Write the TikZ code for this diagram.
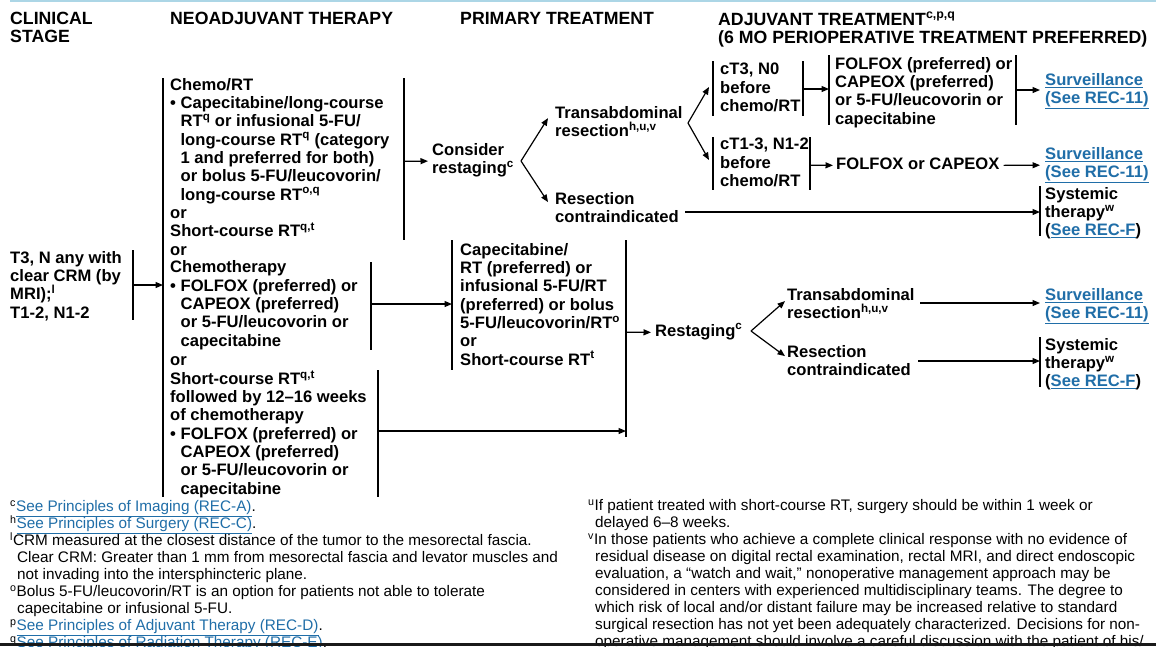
\documentclass[tikz,border=0pt]{standalone}
\usepackage{fontspec}
\setmainfont{Liberation Sans}
\usetikzlibrary{arrows.meta}

\definecolor{linkblue}{RGB}{32,110,168}
\definecolor{toprule}{RGB}{172,214,230}
\newcommand{\lnk}[1]{\textcolor{linkblue}{\underline{#1}}}
\newcommand{\ind}{\hphantom{\textbullet\ }}
\newcommand{\flowfont}{\fontsize{16.6}{18.3}\selectfont\bfseries\lineskiplimit=-20pt}
\newcommand{\headfont}{\fontsize{17.7}{18}\selectfont\bfseries\lineskiplimit=-20pt}
\newcommand{\notefont}{\fontsize{15.3}{17}\selectfont\lineskiplimit=-20pt}

\tikzset{
	flow/.style={anchor=north west, inner sep=0pt, align=left, font=\flowfont, execute at begin node=\strut},
	head/.style={anchor=north west, inner sep=0pt, align=left, font=\headfont, execute at begin node=\strut},
	note/.style={anchor=north west, inner sep=0pt, align=left, font=\notefont, execute at begin node=\strut},
	bracket/.style={line width=1.3pt},
	arr/.style={line width=1.2pt, -{Triangle[length=7.5pt,width=6pt]}}
}

\begin{document}
\begin{tikzpicture}[x=1pt, y=-1pt]
	\useasboundingbox (0,0) rectangle (1156,646);
	\fill[white] (0,0) rectangle (1156,646);
	\draw[toprule, line width=1.5pt] (10,1) -- (1156,1);

	% Column headers
	\node[head] (hStage) at (10,12) {CLINICAL\\STAGE};
	\node[head] (hNeo) at (170,12) {NEOADJUVANT THERAPY};
	\node[head] (hPrim) at (460,12) {PRIMARY TREATMENT};
	\node[head] (hAdj) at (718,12) {ADJUVANT TREATMENT\textsuperscript{c,p,q}\\(6 MO PERIOPERATIVE TREATMENT PREFERRED)};

	% Clinical stage
	\node[flow] (stage) at (10,251) {T3, N any with\\clear CRM (by\\MRI);\textsuperscript{l}\\T1-2, N1-2};

	% Neoadjuvant options
	\node[flow] (neoA) at (170,78) {Chemo/RT\\\textbullet\ Capecitabine/long-course\\\ind RT\textsuperscript{q} or infusional 5-FU/\\\ind long-course RT\textsuperscript{q} (category\\\ind 1 and preferred for both)\\\ind or bolus 5-FU/leucovorin/\\\ind long-course RT\textsuperscript{o,q}\\or\\Short-course RT\textsuperscript{q,t}};
	\node[flow] (orA) at (170,242.4) {or};
	\node[flow] (neoB) at (170,260.7) {Chemotherapy\\\textbullet\ FOLFOX (preferred) or\\\ind CAPEOX (preferred)\\\ind or 5-FU/leucovorin or\\\ind capecitabine};
	\node[flow] (orB) at (170,352) {or};
	\node[flow] (neoC) at (170,370.3) {Short-course RT\textsuperscript{q,t}\\followed by 12--16 weeks\\of chemotherapy\\\textbullet\ FOLFOX (preferred) or\\\ind CAPEOX (preferred)\\\ind or 5-FU/leucovorin or\\\ind capecitabine};

	% Primary treatment
	\node[flow] (cons) at (432,143) {Consider\\restaging\textsuperscript{c}};
	\node[flow] (transA) at (555,106) {Transabdominal\\resection\textsuperscript{h,u,v}};
	\node[flow] (contraA) at (555,192) {Resection\\contraindicated};
	\node[flow] (cape) at (460,243) {Capecitabine/\\RT (preferred) or\\infusional 5-FU/RT\\(preferred) or bolus\\5-FU/leucovorin/RT\textsuperscript{o}\\or\\Short-course RT\textsuperscript{t}};
	\node[flow] (rest) at (655,323) {Restaging\textsuperscript{c}};
	\node[flow] (transB) at (787,288) {Transabdominal\\resection\textsuperscript{h,u,v}};
	\node[flow] (contraB) at (787,345) {Resection\\contraindicated};

	% Adjuvant treatment
	\node[flow] (ctA) at (720,63) {cT3, N0\\before\\chemo/RT};
	\node[flow] (folA) at (835,57) {FOLFOX (preferred) or\\CAPEOX (preferred)\\or 5-FU/leucovorin or\\capecitabine};
	\node[flow] (survA) at (1045,73) {\lnk{Surveillance}\\\lnk{(See REC-11)}};
	\node[flow] (ctB) at (720,138) {cT1-3, N1-2\\before\\chemo/RT};
	\node[flow] (folB) at (836,156) {FOLFOX or CAPEOX};
	\node[flow] (survB) at (1045,147) {\lnk{Surveillance}\\\lnk{(See REC-11)}};
	\node[flow] (sysA) at (1045,187) {Systemic\\therapy\textsuperscript{w}\\(\lnk{See REC-F})};
	\node[flow] (survC) at (1045,288) {\lnk{Surveillance}\\\lnk{(See REC-11)}};
	\node[flow] (sysB) at (1045,338) {Systemic\\therapy\textsuperscript{w}\\(\lnk{See REC-F})};

	% Brackets
	\draw[bracket] (133,250) -- (133,320);
	\draw[bracket] (163,78) -- (163,497);
	\draw[bracket] (404,78) -- (404,240);
	\draw[bracket] (371,262) -- (371,350);
	\draw[bracket] (378,370) -- (378,497);
	\draw[bracket] (452,240) -- (452,370);
	\draw[bracket] (626,240) -- (626,437);
	\draw[bracket] (713,61) -- (713,116);
	\draw[bracket] (803,61) -- (803,116);
	\draw[bracket] (829,55) -- (829,125);
	\draw[bracket] (1016,55) -- (1016,125);
	\draw[bracket] (713,137) -- (713,190);
	\draw[bracket] (810,137) -- (810,190);
	\draw[bracket] (1040,186) -- (1040,236);
	\draw[bracket] (1040,337) -- (1040,387);

	% Points where the flow leaves or meets a bracket
	\coordinate (stageOut) at (133,285);
	\coordinate (neoIn) at (163,285);
	\coordinate (neoAOut) at (404,161.3);
	\coordinate (neoBOut) at (371,304);
	\coordinate (capeIn) at (452,304);
	\coordinate (neoCOut) at (378,431);
	\coordinate (capeOut) at (626,431);
	\coordinate (consV) at (521,161);
	\coordinate (transAV) at (688,123);
	\coordinate (ctAIn) at (709,87);
	\coordinate (ctBIn) at (709,160);
	\coordinate (ctAOut) at (803,89);
	\coordinate (folAIn) at (829,89);
	\coordinate (folAOut) at (1016,90);
	\coordinate (survAIn) at (1040,90);
	\coordinate (ctBOut) at (810,165.2);
	\coordinate (survBIn) at (1040,165.2);
	\coordinate (contraAOut) at (685,212);
	\coordinate (sysAIn) at (1040,212);
	\coordinate (restIn) at (626,332.2);
	\coordinate (restV) at (751,331);
	\coordinate (transBOut) at (920,303);
	\coordinate (survCIn) at (1040,303);
	\coordinate (contraBOut) at (918,361);
	\coordinate (sysBIn) at (1040,361);

	% Connectors
	\draw[arr] (stageOut) -- (neoIn);
	\draw[arr] (neoAOut) -- ([xshift=-4pt]cons.west);
	\draw[arr] (consV) -- ([shift={(-7,-6)}]transA.west);
	\draw[arr] (consV) -- ([shift={(-7,-8)}]contraA.west);
	\draw[arr] (transAV) -- (ctAIn);
	\draw[arr] (transAV) -- (ctBIn);
	\draw[arr] (ctAOut) -- (folAIn);
	\draw[arr] (folAOut) -- (survAIn);
	\draw[arr] (ctBOut) -- ([xshift=-3pt]folB.west);
	\draw[arr] ([xshift=4pt]folB.east) -- (survBIn);
	\draw[arr] (contraAOut) -- (sysAIn);
	\draw[arr] (neoBOut) -- (capeIn);
	\draw[arr] (neoCOut) -- (capeOut);
	\draw[arr] (restIn) -- ([xshift=-4pt]rest.west);
	\draw[arr] (restV) -- ([shift={(-2,-5)}]transB.west);
	\draw[arr] (restV) -- ([shift={(-2,-7)}]contraB.west);
	\draw[arr] (transBOut) -- (survCIn);
	\draw[arr] (contraBOut) -- (sysBIn);

	% Footnotes
	\node[note] (notesL) at (10,500.5) {\textsuperscript{c}\lnk{See Principles of Imaging (REC-A)}.\\
		\textsuperscript{h}\lnk{See Principles of Surgery (REC-C)}.\\
		\textsuperscript{l}CRM measured at the closest distance of the tumor to the mesorectal fascia.\\
		\hspace*{7pt}Clear CRM: Greater than 1 mm from mesorectal fascia and levator muscles and\\
		\hspace*{7pt}not invading into the intersphincteric plane.\\
		\textsuperscript{o}Bolus 5-FU/leucovorin/RT is an option for patients not able to tolerate\\
		\hspace*{7pt}capecitabine or infusional 5-FU.\\
		\textsuperscript{p}\lnk{See Principles of Adjuvant Therapy (REC-D)}.\\
		\textsuperscript{q}\lnk{See Principles of Radiation Therapy (REC-E)}.};
	\node[note] (notesR) at (588,499) {\textsuperscript{u}If patient treated with short-course RT, surgery should be within 1 week or\\
		\hspace*{7pt}delayed 6--8 weeks.\\
		\textsuperscript{v}In those patients who achieve a complete clinical response with no evidence of\\
		\hspace*{7pt}residual disease on digital rectal examination, rectal MRI, and direct endoscopic\\
		\hspace*{7pt}evaluation, a “watch and wait,” nonoperative management approach may be\\
		\hspace*{7pt}considered in centers with experienced multidisciplinary teams. The degree to\\
		\hspace*{7pt}which risk of local and/or distant failure may be increased relative to standard\\
		\hspace*{7pt}surgical resection has not yet been adequately characterized. Decisions for non-\\
		\hspace*{7pt}operative management should involve a careful discussion with the patient of his/};

	% Dark strip along the lower edge
	\fill[black!90] (0,643) rectangle (1156,646);
\end{tikzpicture}
\end{document}
